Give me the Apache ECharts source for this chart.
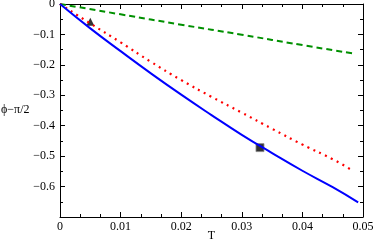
<!DOCTYPE html>
<html>
<head>
<meta charset="utf-8">
<script src="https://cdn.jsdelivr.net/npm/echarts@6/dist/echarts.min.js"></script>
<style>
  html, body { margin: 0; padding: 0; background: #fff; }
  #chart { width: 375px; height: 242px; }
</style>
</head>
<body>
<div id="chart"></div>
<script>
// curve samples: [T, phi - pi/2]
var blueCurve = [[0, 0], [0.005, -0.08], [0.01, -0.155], [0.015, -0.228], [0.02, -0.298], [0.025, -0.365],
  [0.03, -0.43], [0.035, -0.49], [0.04, -0.548], [0.045, -0.602], [0.0492, -0.652]];
var redCurve = [[0, 0], [0.005, -0.064], [0.01, -0.126], [0.015, -0.19], [0.02, -0.25], [0.025, -0.305],
  [0.03, -0.357], [0.035, -0.41], [0.04, -0.462], [0.045, -0.51], [0.0483, -0.548]];
var greenCurve = [[0, 0], [0.01, -0.034], [0.02, -0.068], [0.03, -0.101], [0.04, -0.135], [0.0488, -0.164]];
var trianglePoint = [[0.005, -0.058]];
var squarePoint = [[0.033, -0.472]];
var xTicks = [0, 0.01, 0.02, 0.03, 0.04, 0.05];
var yTicks = [0, -0.1, -0.2, -0.3, -0.4, -0.5, -0.6];

var chart = echarts.init(document.getElementById('chart'));

var font = '"Liberation Serif", serif';

function fmtX(v) {
  var s = v.toFixed(2);
  return xTicks.indexOf(+s) >= 0 ? (+s === 0 ? '0' : s) : '';
}
function fmtY(v) {
  var s = (+v.toFixed(1));
  if (yTicks.indexOf(s) < 0) return '';
  return s === 0 ? '0' : String(s).replace('-', '\u2212');
}

// one axis; mirrored copies on top / right carry ticks only
function makeAxis(dir, pos, withLabels) {
  var isX = dir === 'x';
  var ax = {
    type: 'value',
    position: pos,
    min: isX ? 0 : -0.7,
    max: isX ? 0.05 : 0,
    interval: isX ? 0.01 : 0.1,
    axisLine: { show: true, onZero: false, lineStyle: { color: '#000', width: 1 } },
    axisTick: { show: true, inside: true, length: 5, lineStyle: { color: '#000' } },
    minorTick: { show: true, splitNumber: isX ? 3 : 2, length: 3, lineStyle: { color: '#000' } },
    splitLine: { show: false },
    axisLabel: { show: withLabels, color: '#000', fontFamily: font, fontSize: 12,
      margin: isX ? 4 : 5, formatter: isX ? fmtX : fmtY }
  };
  if (isX && withLabels) {
    ax.name = 'T';
    ax.nameLocation = 'middle';
    ax.nameGap = 13;
    ax.nameMoveOverlap = false;
    ax.nameTextStyle = { color: '#000', fontFamily: font, fontSize: 12 };
  }
  return ax;
}

var option = {
  animation: false,
  grid: { left: 60, right: 12, top: 4, bottom: 25, outerBoundsMode: 'none', containLabel: false },
  xAxis: [makeAxis('x', 'bottom', true), makeAxis('x', 'top', false)],
  yAxis: [makeAxis('y', 'left', true), makeAxis('y', 'right', false)],
  graphic: [{
    type: 'text', left: 1, top: 104,
    style: { text: '\u03d5\u2212\u03c0/2', fill: '#000', font: '12px "Liberation Serif", serif' }
  }],
  series: [
    {
      type: 'line', data: greenCurve, showSymbol: false, smooth: true,
      lineStyle: { color: '#009000', width: 2, type: [6, 4] }
    },
    {
      type: 'line', data: redCurve, showSymbol: false, smooth: true,
      lineStyle: { color: '#ff0000', width: 2.2, type: [2, 4.5] }
    },
    {
      type: 'line', data: blueCurve, showSymbol: false, smooth: true,
      lineStyle: { color: '#0000ff', width: 2 }
    },
    {
      type: 'scatter', data: trianglePoint, symbol: 'triangle', symbolSize: 8,
      itemStyle: { color: '#000' }
    },
    {
      type: 'scatter', data: squarePoint, symbol: 'rect', symbolSize: 8,
      itemStyle: { color: '#000', borderColor: '#888', borderWidth: 1 }
    }
  ]
};

chart.setOption(option);
</script>
</body>
</html>
